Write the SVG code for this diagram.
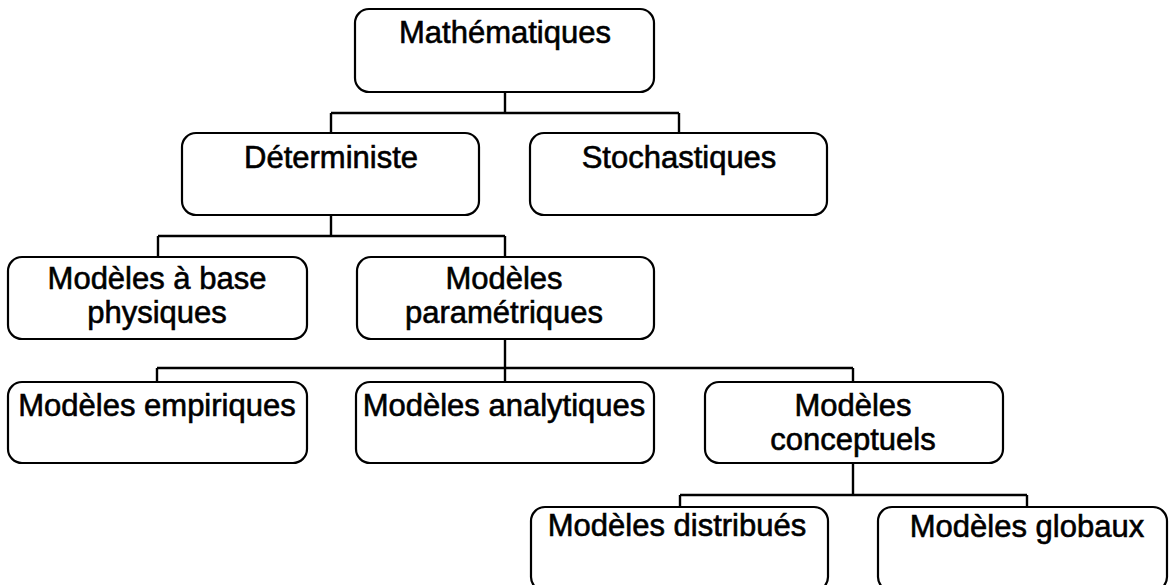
<svg xmlns="http://www.w3.org/2000/svg" width="1169" height="585" viewBox="0 0 1169 585">
<style>
.box{fill:#fff;stroke:#000;stroke-width:2.2}
.lbl{font-family:"Liberation Sans",Arial,sans-serif;font-size:31px;fill:#000;stroke:#000;stroke-width:0.6;text-anchor:middle}
.con{fill:none;stroke:#000;stroke-width:2.4}
</style>
<rect width="1169" height="585" fill="#fff"/>
<g id="connectors">
<path class="con" d="M505 92V113M331 113H679M331 113V133M679 113V133"/>
<path class="con" d="M331 215V236M158 236H505M158 236V257M505 236V257"/>
<path class="con" d="M505 339V382M157 368H853M157 368V382M853 368V382"/>
<path class="con" d="M853 463V495M680 495H1027M680 495V507M1027 495V507"/>
</g>
<g id="n-math"><rect class="box" x="355" y="9" width="299" height="83" rx="14"/><text class="lbl" x="505" y="43">Mathématiques</text></g>
<g id="n-det"><rect class="box" x="182" y="133" width="297" height="82" rx="14"/><text class="lbl" x="331" y="168">Déterministe</text></g>
<g id="n-stoch"><rect class="box" x="530" y="133" width="297" height="82" rx="14"/><text class="lbl" x="679" y="168">Stochastiques</text></g>
<g id="n-phys"><rect class="box" x="8" y="257" width="299" height="82" rx="14"/><text class="lbl" x="157" y="289">Modèles à base</text><text class="lbl" x="157" y="323">physiques</text></g>
<g id="n-param"><rect class="box" x="357" y="257" width="297" height="82" rx="14"/><text class="lbl" x="504" y="289">Modèles</text><text class="lbl" x="504" y="323">paramétriques</text></g>
<g id="n-emp"><rect class="box" x="8" y="382" width="299" height="81" rx="14"/><text class="lbl" x="157" y="416">Modèles empiriques</text></g>
<g id="n-ana"><rect class="box" x="356" y="382" width="298" height="81" rx="14"/><text class="lbl" x="504" y="416">Modèles analytiques</text></g>
<g id="n-conc"><rect class="box" x="705" y="382" width="298" height="81" rx="14"/><text class="lbl" x="853" y="416">Modèles</text><text class="lbl" x="853" y="450">conceptuels</text></g>
<g id="n-dist"><rect class="box" x="531" y="507" width="297" height="84" rx="14"/><text class="lbl" x="677" y="536">Modèles distribués</text></g>
<g id="n-glob"><rect class="box" x="878" y="507" width="289" height="84" rx="14"/><text class="lbl" x="1027" y="537">Modèles globaux</text></g>
</svg>
